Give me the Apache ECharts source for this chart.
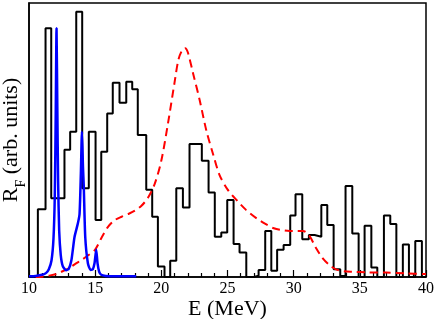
<!DOCTYPE html>
<html>
<head>
<meta charset="utf-8">
<script src="https://cdn.jsdelivr.net/npm/echarts@6/dist/echarts.min.js"></script>
<style>html,body{margin:0;padding:0;background:#fff}#c{width:436px;height:319px}</style>
</head>
<body>
<div id="c"></div>
<script>
// Histogram (black step line): bin edges (MeV) and heights (arb. units)
var histEdges = [10.67, 11.25, 11.68, 12.68, 13.11, 13.57, 14.02, 14.52, 15.03, 15.46, 15.91, 16.33, 16.84, 17.35, 17.80, 18.22, 18.86, 19.31, 19.74, 20.24, 20.67, 21.13, 21.63, 22.13, 23.06, 23.57, 24.04, 24.53, 24.98, 25.46, 25.91, 26.42, 27.0, 27.35, 27.85, 28.31, 28.75, 29.24, 29.74, 30.14, 30.65, 31.15, 31.58, 32.09, 32.54, 33.02, 33.52, 33.92, 34.43, 34.91, 35.36, 35.87, 36.32, 36.82, 37.30, 37.76, 38.25, 38.71, 39.19, 39.69, 40];
var histCounts = [24.7, 90.8, 28.7, 46.4, 53.0, 96.8, 32.4, 53.0, 20.8, 45.7, 59.7, 70.9, 63.6, 71.3, 68.5, 51.8, 31.8, 22.0, 3.8, 0, 5.9, 32.4, 25.4, 48.5, 42.4, 30.8, 14.7, 16.2, 28.1, 12.0, 8.9, 0, 0.5, 2.6, 16.8, 2.3, 9.9, 11.7, 22.4, 30.2, 13.8, 15.3, 14.7, 26.3, 19.0, 2.8, 0.4, 33.2, 15.9, 0, 18.7, 3.5, 0, 22.4, 19.3, 0, 11.9, 0, 13.1, 0];

// Red dashed curve
var redX = [10.5, 11.0, 11.5, 12.0, 12.5, 13.0, 13.5, 14.0, 14.5, 15.0, 15.5, 16.0, 16.5, 17.0, 17.5, 18.0, 18.5, 19.0, 19.5, 20.0, 20.5, 21.0, 21.3, 21.6, 21.8, 22.0, 22.4, 22.9, 23.4, 23.9, 24.4, 25.0, 25.7, 26.4, 27.2, 27.9, 28.5, 29.0, 29.7, 30.2, 30.7, 31.15, 31.7, 32.2, 32.7, 33.2, 33.8, 34.5, 35.5, 37.0, 38.5, 40.0];
var redY = [0, 0.1, 0.5, 1.0, 2.0, 3.2, 4.8, 6.3, 8.0, 10.0, 14.5, 18.5, 20.8, 22.0, 23.0, 24.2, 26.0, 29.0, 34.0, 42.5, 56.0, 71.0, 79.5, 83.0, 83.5, 82.0, 74.3, 64.5, 53.5, 45.0, 37.2, 32.0, 28.0, 24.5, 21.4, 19.3, 17.8, 17.2, 16.8, 16.8, 16.8, 15.3, 10.5, 6.8, 4.4, 2.8, 2.1, 1.9, 1.7, 1.6, 1.3, 1.1];

// Blue curve
var blueX = [10.0, 10.5, 11.0, 11.3, 11.5, 11.7, 11.85, 11.95, 12.02, 12.08, 12.14, 12.2, 12.28, 12.4, 12.55, 12.8, 13.0, 13.2, 13.44, 13.69, 13.82, 13.92, 14.0, 14.08, 14.14, 14.25, 14.45, 14.65, 14.82, 14.95, 15.08, 15.18, 15.3, 15.46, 15.8, 16.5, 17.3, 18.1];
var blueY = [0.3, 0.4, 0.8, 1.5, 2.8, 6, 14, 30, 60, 90.8, 62, 35, 17, 8, 4, 2.5, 3, 6, 14.6, 19.5, 23, 38, 53, 40, 33, 14.6, 5, 2.6, 2.8, 5, 9.9, 5, 2, 0.8, 0.4, 0.3, 0.3, 0.3];

// x-axis tick settings
var xMin = 10, xMax = 40, xStep = 5;

var histData = [[xMin, 0]];
for (var i = 0; i < histCounts.length; i++) histData.push([histEdges[i], histCounts[i]]);
histData.push([histEdges[histEdges.length - 1], 0]);
function pairs(xs, ys) { return xs.map(function (x, i) { return [x, ys[i]]; }); }

var serif = 'Liberation Serif, Times New Roman, serif';
var chart = echarts.init(document.getElementById('c'), null, { renderer: 'canvas' });
chart.setOption({
  animation: false,
  backgroundColor: '#fff',
  grid: { left: 29, top: 3, right: 10, bottom: 42, containLabel: false, outerBoundsMode: 'none', show: true, borderColor: '#000', borderWidth: 1.5, backgroundColor: 'transparent' },
  xAxis: {
    type: 'value', min: xMin, max: xMax, interval: xStep,
    name: 'E (MeV)', nameLocation: 'middle', nameGap: 21, nameMoveOverlap: false,
    nameTextStyle: { fontFamily: serif, fontSize: 22, color: '#000' },
    axisLine: { show: true, lineStyle: { color: '#000', width: 1.5 } },
    axisTick: { show: true, inside: true, length: 7, lineStyle: { color: '#000', width: 1.2 } },
    minorTick: { show: true, splitNumber: 5, length: 4, lineStyle: { color: '#000', width: 1.2 } },
    axisLabel: { fontFamily: serif, fontSize: 16, color: '#000', margin: 4 },
    splitLine: { show: false }
  },
  yAxis: {
    type: 'value', min: 0, max: 100,
    name: '{a|R}{b|F}{a| (arb. units)}', nameLocation: 'middle', nameGap: 1, nameMoveOverlap: false,
    nameTextStyle: {
      rich: {
        a: { fontFamily: serif, fontSize: 22, color: '#000', verticalAlign: 'bottom', padding: [0, 0, 6, 0] },
        b: { fontFamily: serif, fontSize: 14, color: '#000', verticalAlign: 'bottom' }
      }
    },
    axisLine: { show: true, lineStyle: { color: '#000', width: 1.5 } },
    axisTick: { show: false }, axisLabel: { show: false }, splitLine: { show: false }
  },
  series: [
    { type: 'line', data: histData, step: 'end', showSymbol: false, lineStyle: { color: '#000', width: 2 }, z: 2 },
    { type: 'line', data: pairs(redX, redY), showSymbol: false, smooth: 0.3, lineStyle: { color: '#ff0000', width: 2, type: [8, 5] }, z: 3 },
    { type: 'line', data: pairs(blueX, blueY), showSymbol: false, smooth: 0.2, lineStyle: { color: '#0000ff', width: 2.5 }, z: 4 }
  ]
});
</script>
</body>
</html>
